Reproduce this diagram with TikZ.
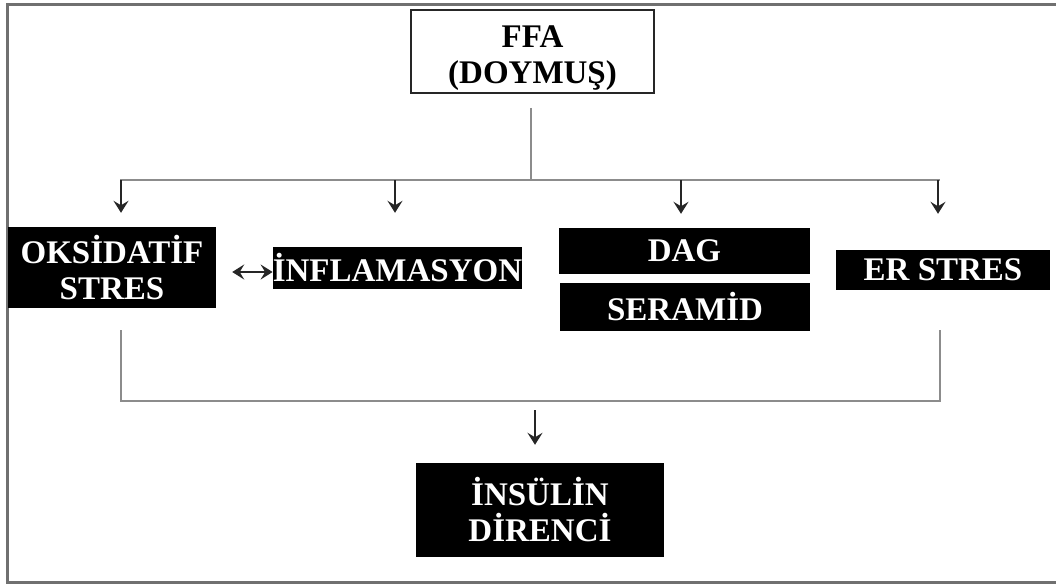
\documentclass[tikz,border=0pt]{standalone}
\usepackage{fontspec}
\setmainfont{Liberation Serif}
\usetikzlibrary{arrows.meta}
\definecolor{linegray}{HTML}{8C8C8C}
\definecolor{framegray}{HTML}{707070}

\begin{document}
\begin{tikzpicture}[x=1pt,y=-1pt,>={Stealth[length=12pt,width=15pt,inset=4.5pt]},
  wbox/.style={draw=black!85,line width=1.5pt,fill=white,inner sep=0pt},
  txt/.style={align=center,inner sep=0pt,font=\fontsize{33}{36}\selectfont\bfseries},
  bbox/.style={txt,fill=black,text=white},
  link/.style={draw=linegray,line width=1.4pt},
  arr/.style={->,draw=black!85,line width=2pt}]
                \useasboundingbox (0,0) rectangle (1056,586);
                \draw[framegray,line width=3pt] (1070,5) -| (7,582) -- (1070,582);

                \node[wbox,minimum width=243,minimum height=83] (ffa) at (532.5,51.5) {};
                \node[txt] (ffatxt) at ([yshift=-7]ffa.center) {FFA\\(DOYMUŞ)};

                \node[bbox,minimum width=208,minimum height=81] (oks) at (112,267.5) {OKSİDATİF\\STRES};
                \node[bbox,minimum width=249,minimum height=42] (inf) at (397.5,268) {İNFLAMASYON};
                \node[bbox,minimum width=251,minimum height=46] (dag) at (684.5,251) {DAG};
                \node[bbox,minimum width=250,minimum height=48] (ser) at (685,307) {SERAMİD};
                \node[bbox,minimum width=214,minimum height=40] (ers) at (943,270) {ER STRES};

                \node[bbox,minimum width=248,minimum height=94] (ins) at (540,510) {İNSÜLİN\\DİRENCİ};

                \coordinate (split) at (531,180);
                \coordinate (sl) at (120,180);
                \coordinate (sr) at (940,180);
                \draw[link] (ffa.south) ++(-1.5,14) -- (split);
                \draw[link] (sl) -- (sr);

                \coordinate (a1) at (121,180);
                \coordinate (a2) at (395,180);
                \coordinate (a3) at (681,180);
                \coordinate (a4) at (938,180);
                \draw[arr,shorten >=14pt] (a1) -- (a1 |- oks.north);
                \draw[arr,shorten >=14pt] (a2) -- (a2 |- oks.north);
                \draw[arr,shorten >=14pt] (a3) -- (a3 |- dag.north);
                \draw[arr,shorten >=14pt] (a4) -- (a4 |- dag.north);

                \draw[arr,<->,line width=2.4pt] (oks.east) ++(16,4.5) coordinate (d1) -- (d1 -| inf.west);

                \coordinate (bl) at (121,330);
                \coordinate (br) at (940,330);
                \coordinate (join) at (535,401);
                \draw[link] (bl) |- (join) -| (br);
                \draw[arr,shorten >=18pt] (535,410) coordinate (a5) -- (a5 |- ins.north);
\end{tikzpicture}
\end{document}
